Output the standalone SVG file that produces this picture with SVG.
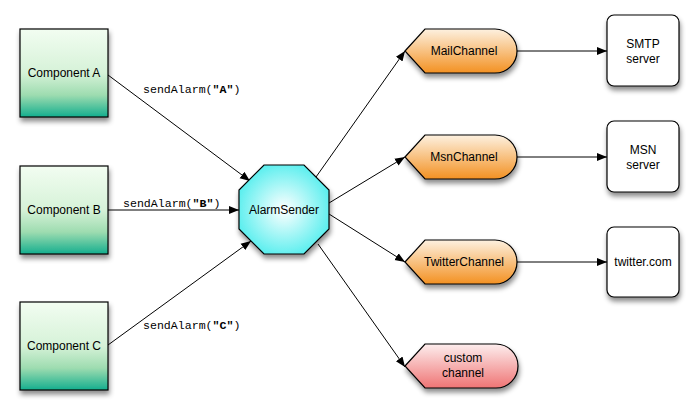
<svg xmlns="http://www.w3.org/2000/svg" width="698" height="413" viewBox="0 0 698 413">
<style>
.lbl{font-family:"Liberation Sans",Arial,sans-serif;font-size:12px;fill:#000;text-anchor:middle}
.code{font-family:"Liberation Mono","Courier New",monospace;font-size:11.6px;fill:#000}
.code tspan.b{font-weight:bold}
.edge{stroke:#000;stroke-width:1;fill:none}
.sh{stroke:#000;stroke-width:1.2;filter:url(#shadow)}
</style>
<defs>
<filter id="shadow" x="-20%" y="-20%" width="140%" height="150%">
<feDropShadow dx="1" dy="4" stdDeviation="2.5" flood-color="#000" flood-opacity="0.45"/>
</filter>
<linearGradient id="gGreen" x1="0" y1="0" x2="0" y2="1">
<stop offset="0" stop-color="#f2fdf1"/>
<stop offset="0.5" stop-color="#d6f2d8"/>
<stop offset="0.75" stop-color="#9edcb0"/>
<stop offset="1" stop-color="#14ae8e"/>
</linearGradient>
<linearGradient id="gOrange" x1="0" y1="0" x2="0" y2="1">
<stop offset="0" stop-color="#fdf1e0"/>
<stop offset="1" stop-color="#f39122"/>
</linearGradient>
<linearGradient id="gRed" x1="0" y1="0" x2="0" y2="1">
<stop offset="0" stop-color="#fdeeee"/>
<stop offset="1" stop-color="#ef7474"/>
</linearGradient>
<radialGradient id="gCyan" cx="0.5" cy="0.5" r="0.55">
<stop offset="0" stop-color="#ffffff"/>
<stop offset="1" stop-color="#55eeee"/>
</radialGradient>
<marker id="arr" viewBox="0 0 10 10" refX="10" refY="5" markerWidth="10" markerHeight="10" markerUnits="userSpaceOnUse" orient="auto">
<path d="M0,1 L10,5 L0,9 Z" fill="#000"/>
</marker>
</defs>
<rect width="698" height="413" fill="#fff"/>

<g id="connectors">
<line class="edge" x1="108" y1="75" x2="250" y2="181" marker-end="url(#arr)"/>
<line class="edge" x1="108" y1="210" x2="239" y2="210" marker-end="url(#arr)"/>
<line class="edge" x1="108" y1="345" x2="251" y2="241" marker-end="url(#arr)"/>
<line class="edge" x1="316" y1="177" x2="405" y2="51" marker-end="url(#arr)"/>
<line class="edge" x1="329" y1="203" x2="405" y2="157" marker-end="url(#arr)"/>
<line class="edge" x1="329" y1="214" x2="405" y2="262" marker-end="url(#arr)"/>
<line class="edge" x1="318" y1="244" x2="405" y2="367" marker-end="url(#arr)"/>
<line class="edge" x1="517" y1="51" x2="607" y2="51" marker-end="url(#arr)"/>
<line class="edge" x1="517" y1="157" x2="607" y2="157" marker-end="url(#arr)"/>
<line class="edge" x1="517" y1="262" x2="607" y2="262" marker-end="url(#arr)"/>
</g>

<g id="labels">
<text class="code" x="143" y="93">sendAlarm(<tspan class="b">"A"</tspan>)</text>
<text class="code" x="123" y="207">sendAlarm(<tspan class="b">"B"</tspan>)</text>
<text class="code" x="143" y="329">sendAlarm(<tspan class="b">"C"</tspan>)</text>
</g>

<g id="componentA">
<rect class="sh" x="20" y="29" width="88" height="88" fill="url(#gGreen)"/>
<text class="lbl" x="64" y="77">Component A</text>
</g>
<g id="componentB">
<rect class="sh" x="20" y="166" width="88" height="88" fill="url(#gGreen)"/>
<text class="lbl" x="64" y="214">Component B</text>
</g>
<g id="componentC">
<rect class="sh" x="20" y="302" width="88" height="88" fill="url(#gGreen)"/>
<text class="lbl" x="64" y="350">Component C</text>
</g>

<g id="alarmSender">
<polygon class="sh" points="264,165 304,165 329,190 329,229 304,254 264,254 239,229 239,190" fill="url(#gCyan)"/>
<text class="lbl" x="284" y="214">AlarmSender</text>
</g>

<g id="mailChannel">
<path class="sh" d="M405,51 L425,29 L495,29 A22,22 0 0 1 495,73 L425,73 Z" fill="url(#gOrange)"/>
<text class="lbl" x="464" y="55">MailChannel</text>
</g>
<g id="msnChannel">
<path class="sh" d="M405,157 L425,135 L495,135 A22,22 0 0 1 495,179 L425,179 Z" fill="url(#gOrange)"/>
<text class="lbl" x="464" y="161">MsnChannel</text>
</g>
<g id="twitterChannel">
<path class="sh" d="M405,262 L425,240 L495,240 A22,22 0 0 1 495,284 L425,284 Z" fill="url(#gOrange)"/>
<text class="lbl" x="464" y="266">TwitterChannel</text>
</g>
<g id="customChannel">
<path class="sh" d="M405,366 L425,344 L496,344 A22,22 0 0 1 496,388 L425,388 Z" fill="url(#gRed)"/>
<text class="lbl" x="463" y="362">custom</text>
<text class="lbl" x="463" y="377">channel</text>
</g>

<g id="smtpServer">
<rect class="sh" x="607" y="15" width="72" height="71" rx="7" fill="#fff"/>
<text class="lbl" x="643" y="48">SMTP</text>
<text class="lbl" x="643" y="63">server</text>
</g>
<g id="msnServer">
<rect class="sh" x="607" y="121" width="72" height="71" rx="7" fill="#fff"/>
<text class="lbl" x="643" y="154">MSN</text>
<text class="lbl" x="643" y="169">server</text>
</g>
<g id="twitterServer">
<rect class="sh" x="607" y="227" width="72" height="70" rx="7" fill="#fff"/>
<text class="lbl" x="643" y="266">twitter.com</text>
</g>
</svg>
